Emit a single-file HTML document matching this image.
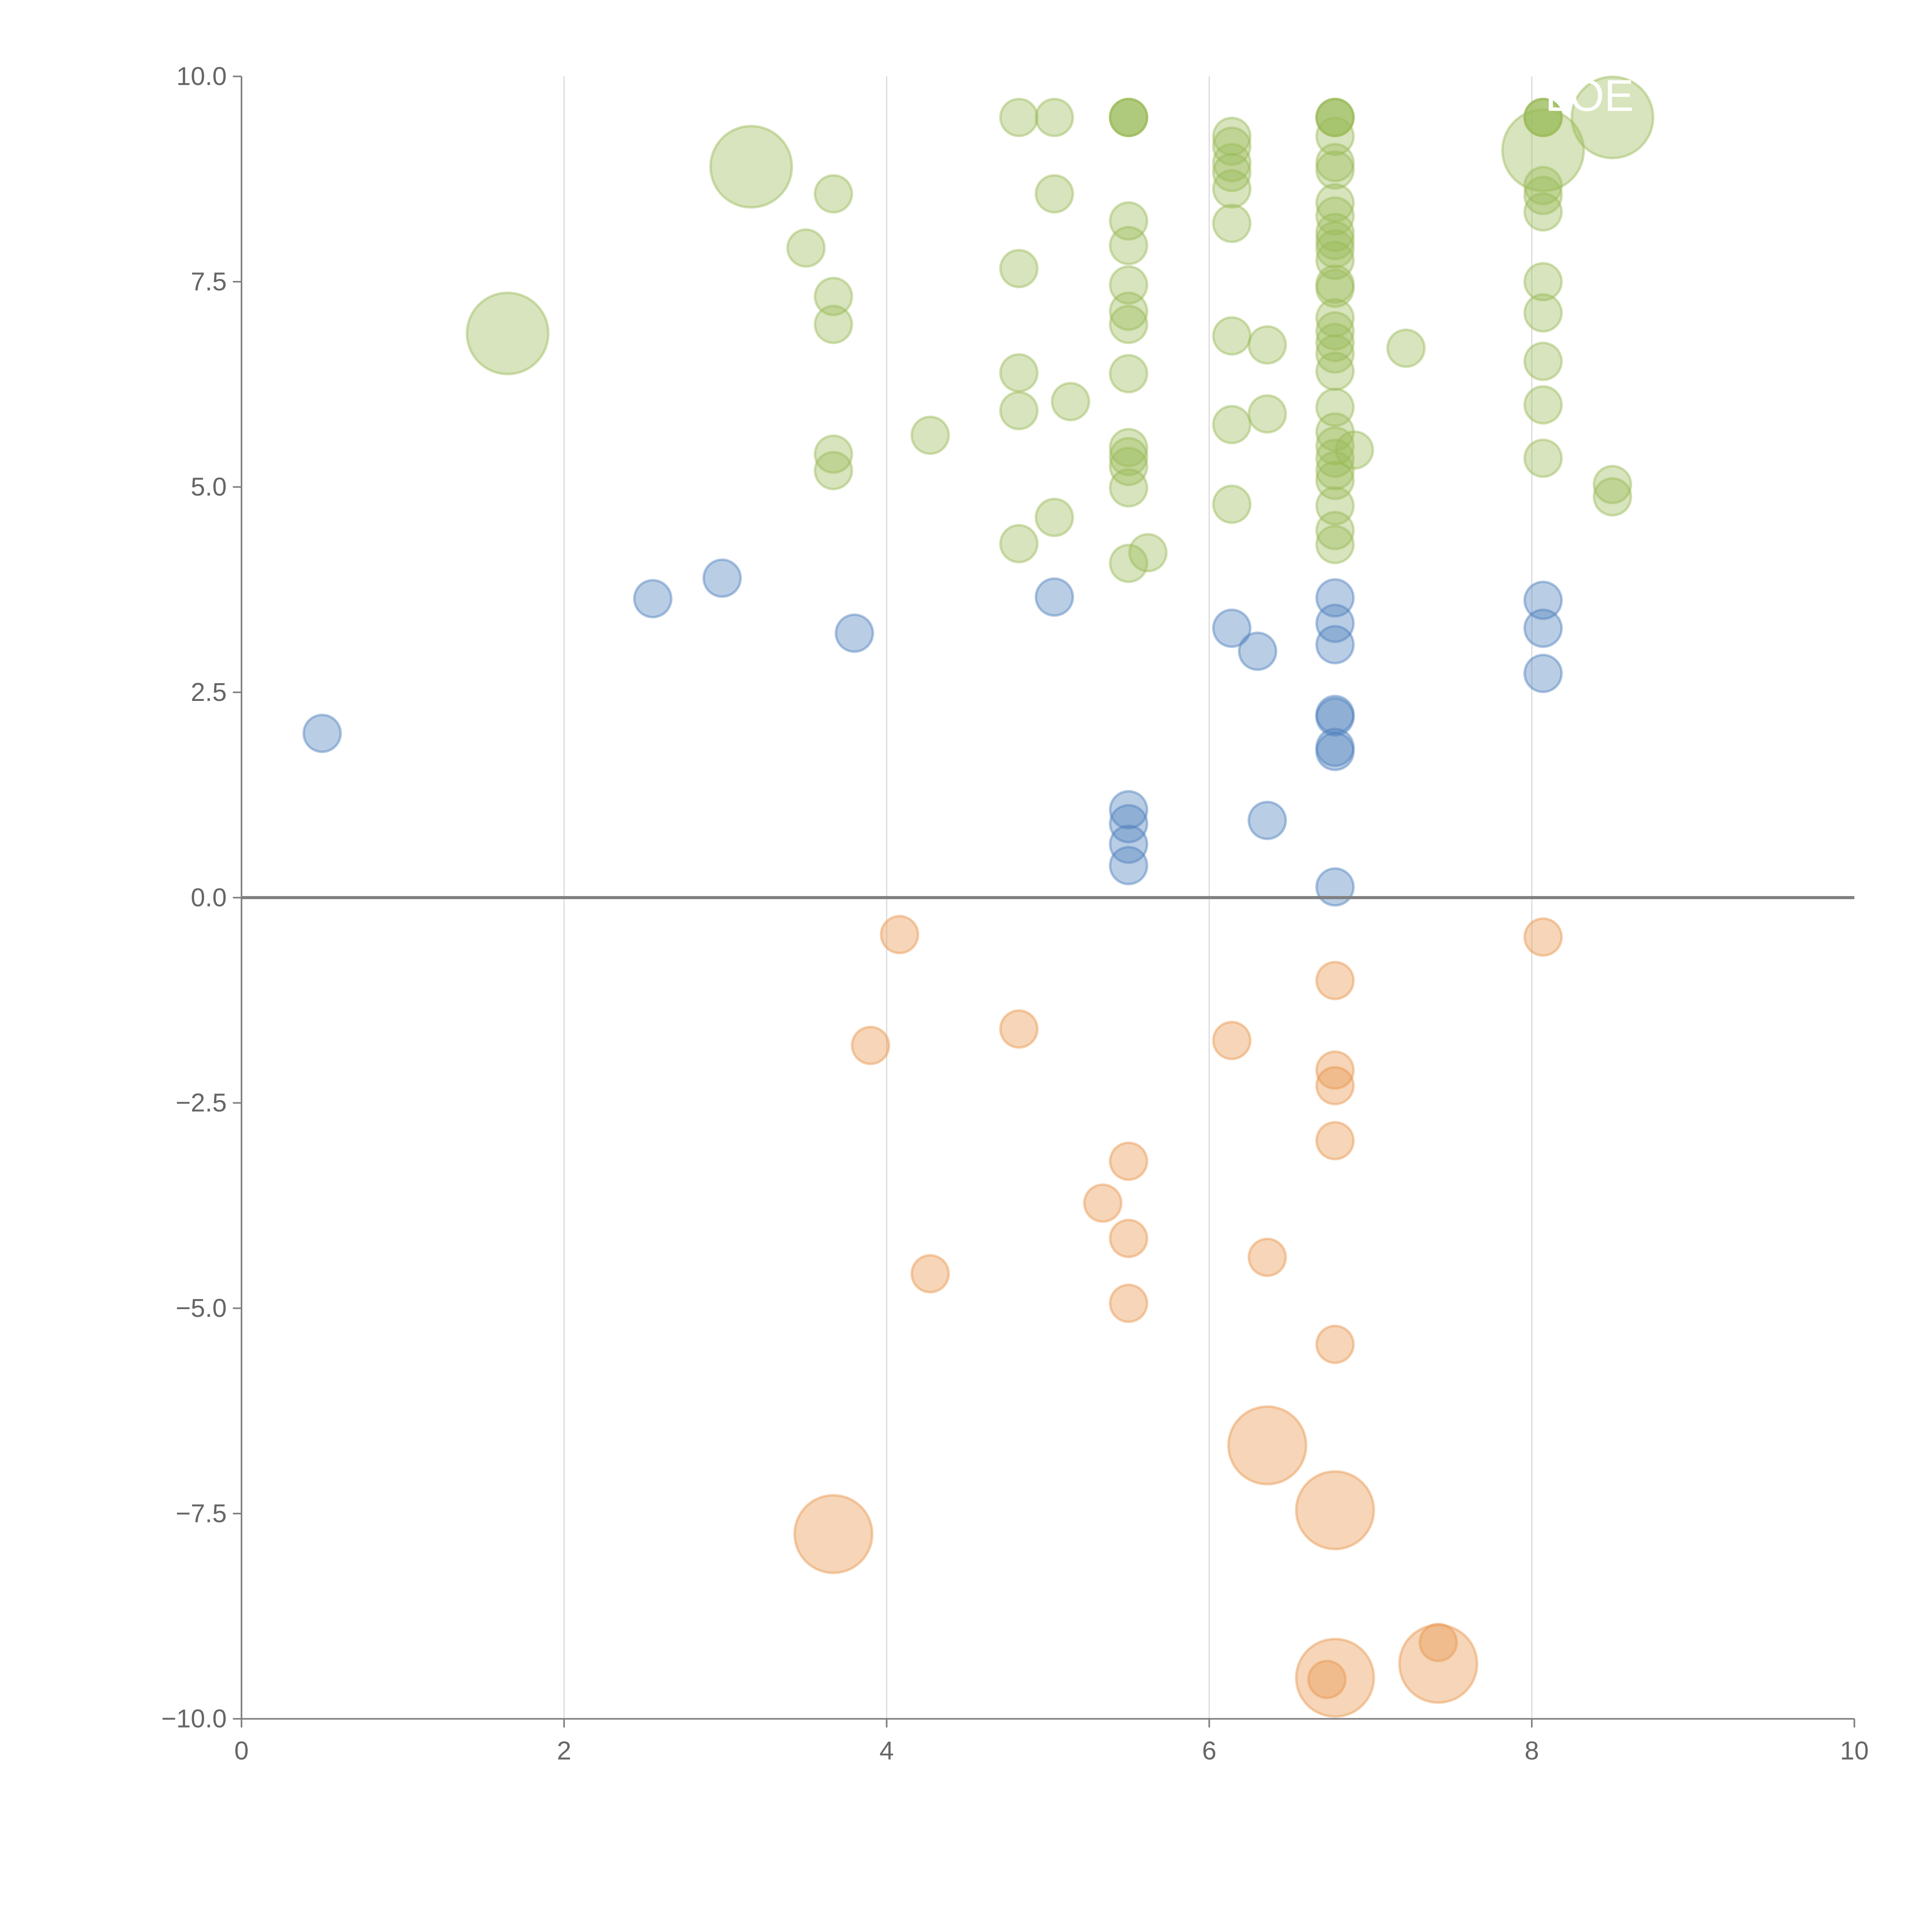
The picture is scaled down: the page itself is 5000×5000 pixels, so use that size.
<!DOCTYPE html>
<html><head><meta charset="utf-8"><style>
html,body{margin:0;padding:0;background:#fff}
svg{display:block}
text{font-family:"Liberation Sans",sans-serif}
</style></head><body>
<svg id="chart" width="5000" height="5000" viewBox="0 0 1568 1568" xmlns="http://www.w3.org/2000/svg">
<g id="grid"></g>
<g id="marks"></g>
<g id="axes"></g>
<text x="1290" y="90" font-size="36" fill="#fff" text-anchor="middle">LOE</text>
</svg>
<script>
const xTicks = [0, 2, 4, 6, 8, 10];
const yTicks = [-10, -7.5, -5, -2.5, 0, 2.5, 5, 7.5, 10];
const greenX = [4.82,4.82,4.82,4.82,4.82,5.04,5.04,5.04,5.5,5.5,5.5,5.5,5.5,5.5,5.5,5.5,5.5,5.5,5.5,5.5,5.62,5.14,4.27,3.67,3.67,3.67,3.67,3.67,3.5,6.14,6.14,6.14,6.14,6.14,6.14,6.14,6.14,6.14,6.36,6.36,6.78,6.78,6.78,6.78,6.78,6.78,6.78,6.78,6.78,6.78,6.78,6.78,6.78,6.78,6.78,6.78,6.78,6.78,6.78,6.78,6.78,6.78,6.78,6.78,6.78,6.78,6.9,7.22,8.07,8.07,8.07,8.07,8.07,8.07,8.07,8.07,8.07,8.5,8.5,1.65,3.16,8.07,8.5,5.5,5.5,6.78,6.78,8.07,8.07];
const greenY = [9.5,7.66,6.39,5.93,4.31,9.5,8.57,4.63,9.5,8.24,7.94,7.46,7.14,6.98,6.38,5.48,5.37,5.25,4.99,4.07,4.2,6.04,5.63,8.57,7.32,6.98,5.4,5.2,7.91,9.27,9.15,8.95,8.83,8.63,8.21,6.84,5.76,4.79,6.73,5.89,9.5,9.27,8.95,8.86,8.46,8.3,8.1,8.0,7.9,7.76,7.47,7.42,7.06,6.9,6.76,6.62,6.41,5.97,5.67,5.5,5.35,5.2,5.08,4.77,4.47,4.3,5.45,6.69,9.5,8.67,8.55,8.35,7.5,7.12,6.53,6.0,5.35,5.03,4.88,6.87,8.9,9.1,9.5,9.5,9.5,9.5,9.5,9.5,9.5];
const greenS = [1,1,1,1,1,1,1,1,1,1,1,1,1,1,1,1,1,1,1,1,1,1,1,1,1,1,1,1,1,1,1,1,1,1,1,1,1,1,1,1,1,1,1,1,1,1,1,1,1,1,1,1,1,1,1,1,1,1,1,1,1,1,1,1,1,1,1,1,1,1,1,1,1,1,1,1,1,1,1,2.2,2.2,2.2,2.2,1,1,1,1,1,1];
const blueX = [0.5,2.55,2.98,3.8,5.04,6.14,6.3,6.36,5.5,5.5,5.5,5.5,6.78,6.78,6.78,6.78,6.78,6.78,6.78,6.78,8.07,8.07,8.07];
const blueY = [2.0,3.64,3.89,3.22,3.66,3.28,3.0,0.94,1.07,0.9,0.65,0.39,3.65,3.34,3.08,2.23,2.2,1.83,1.78,0.13,3.62,3.28,2.73];
const orangeX = [4.08,8.07,6.78,4.82,3.9,6.14,6.78,6.78,6.78,5.5,5.34,5.5,6.36,4.27,5.5,6.78,7.42,6.73,3.67,6.36,6.78,6.78,7.42];
const orangeY = [-0.45,-0.48,-1.01,-1.6,-1.8,-1.74,-2.1,-2.29,-2.96,-3.21,-3.72,-4.15,-4.38,-4.58,-4.94,-5.44,-9.07,-9.52,-7.75,-6.67,-7.46,-9.5,-9.33];
const orangeS = [1,1,1,1,1,1,1,1,1,1,1,1,1,1,1,1,1,1,2.1,2.1,2.1,2.1,2.1];

const X0=196,X1=1505,Y0=1395,Y1=62;
const sx=v=>X0+(v-0)/(10-0)*(X1-X0);
const sy=v=>Y0-(v+10)/20*(Y0-Y1);
const NS='http://www.w3.org/2000/svg';
function mk(tag,attrs,parent){const e=document.createElementNS(NS,tag);for(const k in attrs)e.setAttribute(k,attrs[k]);parent.appendChild(e);return e;}
const grid=document.getElementById('grid'),marks=document.getElementById('marks'),axes=document.getElementById('axes');
xTicks.forEach(t=>{if(t>0&&t<10){const l=mk('line',{x1:sx(t),x2:sx(t),y1:Y1,y2:Y0,stroke:'#dcdcdc','stroke-width':1},grid);

}});
function series(xs,ys,ss,color,name){xs.forEach((x,i)=>{const r=15*(ss?ss[i]:1);
const c=mk('circle',{cx:sx(x),cy:sy(ys[i]),r:r,fill:color,'fill-opacity':0.4,stroke:color,'stroke-opacity':0.45,'stroke-width':2},marks);

});}
series(greenX,greenY,greenS,'#9bbb59','green-bubble');
series(blueX,blueY,null,'#4f81bd','blue-bubble');
series(orangeX,orangeY,orangeS,'#e8964d','orange-bubble');
const z=mk('line',{x1:X0,x2:X1,y1:sy(0),y2:sy(0),stroke:'#808080','stroke-width':2.5},axes);


const ya=mk('line',{x1:X0,x2:X0,y1:Y1,y2:Y0,stroke:'#808080','stroke-width':1.3},axes);


const xa=mk('line',{x1:X0,x2:X1,y1:Y0,y2:Y0,stroke:'#808080','stroke-width':1.3},axes);


xTicks.forEach(t=>{mk('line',{x1:sx(t),x2:sx(t),y1:Y0,y2:Y0+7,stroke:'#808080','stroke-width':1.3},axes);
const tx=mk('text',{x:sx(t),y:Y0+33,'font-size':21,fill:'#666','text-anchor':'middle'},axes);tx.textContent=t;

});
yTicks.forEach(t=>{mk('line',{x1:X0-7,x2:X0,y1:sy(t),y2:sy(t),stroke:'#808080','stroke-width':1.3},axes);
const tx=mk('text',{x:X0-12,y:sy(t)+7,'font-size':21,fill:'#666','text-anchor':'end'},axes);tx.textContent=(t<0?'\u2212':'')+Math.abs(t).toFixed(1);

});
</script>
</body></html>
